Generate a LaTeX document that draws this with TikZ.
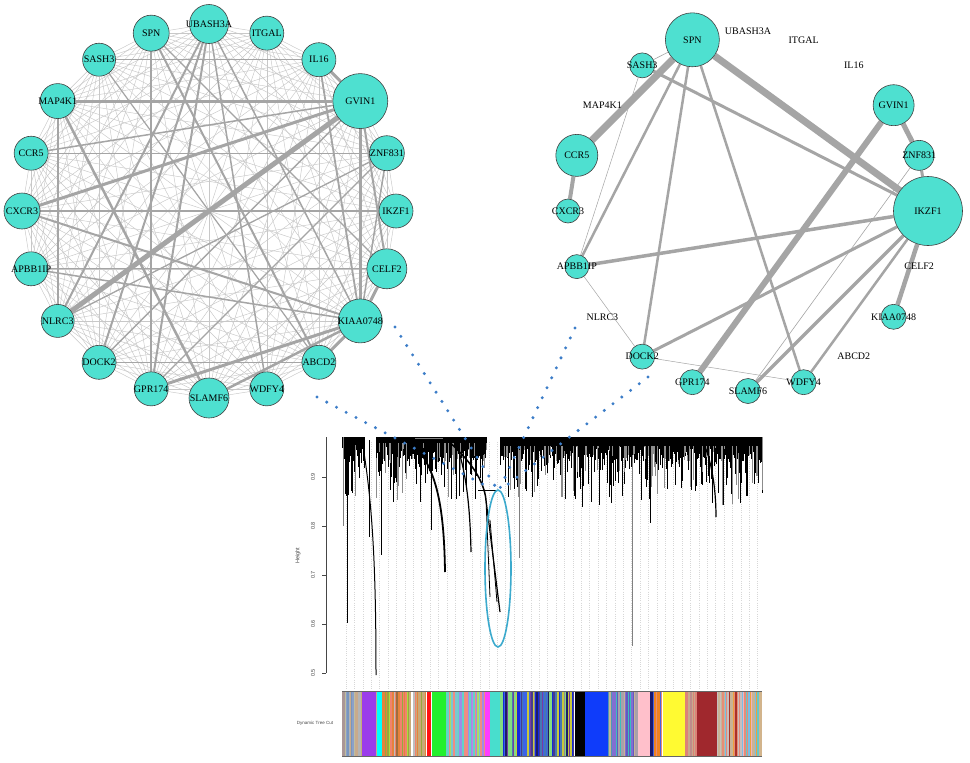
\documentclass[tikz,border=0pt]{standalone}
\usepackage{fontspec}
\setmainfont{Liberation Serif}
\setsansfont{Liberation Sans}
\usetikzlibrary{calc,backgrounds}
\definecolor{turq}{RGB}{78,224,208}
\definecolor{edgec}{RGB}{165,165,165}
\definecolor{edgelt}{RGB}{200,200,200}
\definecolor{dotblue}{RGB}{60,125,200}
\definecolor{ellcol}{RGB}{60,170,205}
\definecolor{gridc}{RGB}{215,215,215}
\definecolor{axisc}{RGB}{70,70,70}
% colour bar palettes
\definecolor{pa1}{RGB}{180,180,180}\definecolor{pa2}{RGB}{200,170,140}\definecolor{pa3}{RGB}{140,160,200}
\definecolor{pa4}{RGB}{170,150,150}\definecolor{pa5}{RGB}{120,150,190}\definecolor{pa6}{RGB}{190,190,160}
\definecolor{pb1}{RGB}{200,170,120}\definecolor{pb2}{RGB}{150,170,60}\definecolor{pb3}{RGB}{190,190,190}
\definecolor{pb4}{RGB}{230,130,60}\definecolor{pb5}{RGB}{240,130,110}\definecolor{pb6}{RGB}{160,110,60}
\definecolor{pb7}{RGB}{170,220,60}
\definecolor{pc1}{RGB}{100,210,200}\definecolor{pc2}{RGB}{160,140,230}\definecolor{pc3}{RGB}{240,140,130}
\definecolor{pc4}{RGB}{120,200,210}\definecolor{pc5}{RGB}{190,130,230}\definecolor{pc6}{RGB}{170,220,100}
\definecolor{pd1}{RGB}{70,60,140}\definecolor{pd2}{RGB}{30,30,100}\definecolor{pd3}{RGB}{60,100,230}
\definecolor{pd4}{RGB}{120,60,160}\definecolor{pd5}{RGB}{140,140,150}\definecolor{pd6}{RGB}{200,200,60}
\definecolor{pd7}{RGB}{70,120,180}\definecolor{pd8}{RGB}{20,40,220}\definecolor{pd9}{RGB}{130,220,130}
\definecolor{pe1}{RGB}{80,150,180}\definecolor{pe2}{RGB}{60,190,190}\definecolor{pe3}{RGB}{130,110,210}
\definecolor{pe4}{RGB}{100,90,190}\definecolor{pe5}{RGB}{170,160,170}\definecolor{pe6}{RGB}{200,180,150}
\definecolor{pf1}{RGB}{240,130,30}\definecolor{pf2}{RGB}{70,100,220}\definecolor{pf3}{RGB}{230,140,120}
\definecolor{pg1}{RGB}{220,130,120}\definecolor{pg2}{RGB}{190,140,140}\definecolor{pg3}{RGB}{200,170,140}
\definecolor{ph1}{RGB}{230,140,120}\definecolor{ph2}{RGB}{200,190,190}\definecolor{ph3}{RGB}{120,190,230}
\definecolor{ph4}{RGB}{200,180,150}\definecolor{ph5}{RGB}{170,50,40}\definecolor{ph6}{RGB}{240,160,60}
\definecolor{ph7}{RGB}{240,180,190}\definecolor{ph8}{RGB}{100,200,200}
\definecolor{cpurple}{RGB}{155,60,235}\definecolor{ccyan}{RGB}{0,255,255}\definecolor{cred}{RGB}{255,20,20}
\definecolor{cgreen}{RGB}{35,240,45}\definecolor{cmagenta}{RGB}{255,60,255}\definecolor{cturq}{RGB}{72,222,205}
\definecolor{cblue}{RGB}{15,60,250}\definecolor{cpink}{RGB}{255,192,203}\definecolor{cnavy}{RGB}{25,25,112}
\definecolor{cyellow}{RGB}{255,250,50}\definecolor{cbrown}{RGB}{160,40,45}\definecolor{ctan}{RGB}{210,180,140}
\newcommand\cbstripes[4]{%
  \pgfmathtruncatemacro\cbn{(#2-#1)/1.3}%
  \foreach \cbi in {0,...,\cbn}{%
    \pgfmathsetmacro\cbx{#1+1.3*\cbi}%
    \pgfmathrandominteger{\cbk}{1}{#4}%
    \fill[#3\cbk] (\cbx,691) rectangle (\cbx+1.4,756);%
  }%
}
\def\leftlist{UBASH3A,ITGAL,IL16,GVIN1,ZNF831,IKZF1,CELF2,KIAA0748,ABCD2,WDFY4,SLAMF6,GPR174,DOCK2,NLRC3,APBB1IP,CXCR3,CCR5,MAP4K1,SASH3,SPN}
\tikzset{
  glabel/.style={inner sep=0pt, font=\fontsize{10}{10}\selectfont},
  gene/.style={circle, draw=black!75, line width=0.6pt, fill=turq, inner sep=0pt, minimum size=#1},
  lightedge/.style={draw=edgelt, line width=0.45pt},
  wedge/.style={draw=edgec, line width=#1},
  dots/.style={draw=dotblue, line width=3.3pt, line cap=round, dash pattern=on 0pt off 11pt},
  ticklab/.style={inner sep=0pt, text=axisc, font=\fontsize{5.5}{5.5}\sffamily\selectfont},
}
\begin{document}
\begin{tikzpicture}[x=1pt,y=-1pt]
\useasboundingbox (0,0) rectangle (970,763);
\begin{pgfonlayer}{background}
\fill[white] (0,0) rectangle (970,763);
\end{pgfonlayer}

% ---------- left network nodes ----------
\foreach \nm/\ang/\rr [evaluate=\ang as \aa using -\ang] in {UBASH3A/90/19.5, ITGAL/72/17, IL16/54/17, GVIN1/36/27.5, ZNF831/18/17.5, IKZF1/0/17, CELF2/-18/20, KIAA0748/-36/22, ABCD2/-54/17, WDFY4/-72/17, SLAMF6/-90/20, GPR174/-108/17, DOCK2/-126/17, NLRC3/-144/16.5, APBB1IP/-162/17, CXCR3/180/18, CCR5/162/17, MAP4K1/144/17.5, SASH3/126/16.5, SPN/108/18}
  \node[gene=2*\rr, label={[glabel]center:\nm}] (l\nm) at ($(209,211)+(\aa:187)$) {};

% ---------- right network nodes ----------
\foreach \nm/\ang/\rr [evaluate=\ang as \aa using -\ang] in {SPN/108/27, SASH3/126/12.5, CCR5/162/21, CXCR3/180/12, APBB1IP/-162/12, DOCK2/-126/12.5, GPR174/-108/12.5, SLAMF6/-90/12.5, WDFY4/-72/12.5, KIAA0748/-36/12.5, IKZF1/0/34.5, ZNF831/18/15, GVIN1/36/20.5}
  \node[gene=2*\rr, label={[glabel]center:\nm}] (r\nm) at ($(748,211)+(\aa:180)$) {};
\foreach \nm/\ang [evaluate=\ang as \aa using -\ang] in {UBASH3A/90, ITGAL/72, IL16/54, CELF2/-18, ABCD2/-54, NLRC3/-144, MAP4K1/144}
  \node[glabel] (r\nm) at ($(748,211)+(\aa:180)$) {\nm};

% ---------- edges ----------
\begin{pgfonlayer}{background}
\foreach \a [count=\i] in \leftlist {
  \foreach \b [count=\j] in \leftlist {
    \ifnum\j>\i \draw[lightedge] (l\a) -- (l\b);\fi
  }
}
\foreach \a/\b/\w in {MAP4K1/GVIN1/3, CXCR3/GVIN1/3, NLRC3/GVIN1/5, GVIN1/KIAA0748/3, GVIN1/CELF2/2, IL16/GVIN1/3,
  IL16/KIAA0748/1.8, KIAA0748/GPR174/3, KIAA0748/SLAMF6/2.5, KIAA0748/ABCD2/3, KIAA0748/CELF2/3, CXCR3/KIAA0748/2,
  APBB1IP/KIAA0748/1.5, SPN/GPR174/2.5, MAP4K1/NLRC3/2, MAP4K1/SLAMF6/2.5, UBASH3A/NLRC3/2, UBASH3A/DOCK2/2,
  UBASH3A/GPR174/2, SPN/ABCD2/2, UBASH3A/WDFY4/1.5, UBASH3A/KIAA0748/1.5, GVIN1/DOCK2/1.5, CCR5/ZNF831/1.2,
  CXCR3/IKZF1/1.2, APBB1IP/CELF2/1.2, CCR5/GVIN1/1.5, ZNF831/KIAA0748/1.5, SASH3/IL16/1, DOCK2/ABCD2/1,
  NLRC3/ZNF831/1.3, GPR174/ZNF831/1.3, SPN/CELF2/1.3, SASH3/ABCD2/1.2}
  \draw[wedge=\w pt] (l\a) -- (l\b);
\foreach \a/\b/\w in {SPN/IKZF1/7, SPN/CCR5/7, CCR5/CXCR3/4, SPN/SASH3/0.6, SASH3/APBB1IP/0.5, SPN/APBB1IP/2.5,
  SPN/DOCK2/2.5, SPN/WDFY4/2.5, SASH3/IKZF1/3, GVIN1/ZNF831/5, ZNF831/IKZF1/3, GVIN1/GPR174/6, IKZF1/APBB1IP/3.5,
  IKZF1/DOCK2/3, IKZF1/SLAMF6/3.5, IKZF1/WDFY4/2.5, IKZF1/KIAA0748/4.5, ZNF831/SLAMF6/0.6, APBB1IP/DOCK2/0.5,
  DOCK2/WDFY4/0.5}
  \draw[wedge=\w pt] (r\a) -- (r\b);
\end{pgfonlayer}

% ---------- dendrogram ----------
\foreach \i in {0,...,49}
  \draw[gridc, line width=0.5pt, dash pattern=on 1pt off 1.2pt] (346+8.4*\i,442) -- (346+8.4*\i,689);
\pgfmathsetseed{3}
\foreach \i in {0,...,700}{
  \pgfmathsetmacro\xx{342.5+0.6*\i}
  \pgfmathtruncatemacro\ok{and(or(\xx<365,\xx>376),or(\xx<487,\xx>500))}
  \ifnum\ok=1
    \pgfmathsetmacro\ll{9+16*rnd+50*rnd^4}
    \pgfmathtruncatemacro\gr{rnd<0.25}
    \ifnum\gr=1
      \draw[black!45, line width=0.5pt] (\xx,437) -- ++(0,\ll);
    \else
      \draw[black, line width=0.5pt] (\xx,437) -- ++(0,\ll);
    \fi
  \fi
}
\fill[black] (342,437) rectangle (365,445);
\fill[black] (376,437) rectangle (487,443);
\fill[black] (500,437) rectangle (762,446);
\draw[gray, line width=0.8pt] (343,437) -- (343,526);
\draw[black, line width=0.9pt] (347,440) -- (347,623);
\draw[black, line width=1pt] (362,440) .. controls (372,500) and (376,560) .. (376,675);
\draw[black, line width=0.8pt] (369,440) -- (369,537);
\draw[black, line width=0.8pt] (381,440) -- (381,555);
\draw[gray, line width=0.6pt] (415,438) -- (443,438);
\draw[black, line width=1.8pt] (415,445) .. controls (435,470) and (444,500) .. (445,572);
\draw[black, line width=0.8pt] (431,450) -- (431,530);
\draw[black, line width=1.2pt] (457,445) .. controls (465,470) and (470,500) .. (471,552);
\draw[black, line width=1.5pt] (447,440) .. controls (470,460) and (484,480) .. (486,500);
\draw[black, line width=0.6pt] (478,490) -- (498,490);
\draw[black, line width=1.2pt] (486,500) -- (500,612);
\draw[black, line width=0.8pt] (486,500) -- (490,597);
\draw[black, line width=0.8pt] (490,520) -- (497,602);
\draw[gray, line width=0.7pt] (519,450) -- (519,558);
\draw[black, line width=1pt] (582,455) -- (582,507);
\draw[black, line width=1pt] (607,455) -- (607,483);
\draw[gray, line width=0.6pt] (632,455) -- (632,646);
\draw[black, line width=0.9pt] (650,455) -- (650,523);
\draw[black, line width=1.2pt] (702,440) .. controls (712,460) and (716,490) .. (716,517);

% axis
\draw[axisc, line width=0.5pt] (326,437) -- (326,673);
\foreach \v/\y in {0.9/477, 0.8/526, 0.7/575, 0.6/624, 0.5/673}{
  \draw[axisc, line width=0.5pt] (326,\y) -- (322,\y);
  \node[ticklab, rotate=90] (tick\y) at (313,\y) {\v};
}
\node[ticklab, rotate=90] (heightlab) at (298,556) {Height};
\node[ticklab, font=\fontsize{4.5}{4.5}\sffamily\selectfont] (dtclab) at (315,723) {Dynamic Tree Cut};

% colour bar
\pgfmathsetseed{11}
\cbstripes{342}{361}{pa}{6}
\cbstripes{361}{362}{pb}{7}
\cbstripes{376}{377}{pa}{6}
\cbstripes{382}{426}{pb}{7}
\cbstripes{446}{484}{pc}{6}
\cbstripes{500}{574}{pd}{9}
\cbstripes{608}{637}{pe}{6}
\cbstripes{653}{662}{pf}{3}
\cbstripes{685}{696}{pg}{3}
\cbstripes{717}{758}{ph}{8}
\foreach \xa/\xb/\cc in {362/376/cpurple, 377/382/ccyan, 411/413/white, 427/431/cred, 432/446/cgreen,
  485/490/cmagenta, 490/500/cturq, 575/585/black, 585/608/cblue, 638/650/cpink, 650/653/cnavy,
  663/685/cyellow, 697/717/cbrown, 759/762/ctan}
  \fill[\cc] (\xa,691) rectangle (\xb,756);
\draw[black!60, line width=0.8pt] (342,691) -- (762,691);
\draw[black!60, line width=0.8pt] (342,756) -- (762,756);

% ellipse
\draw[ellcol, line width=1.6pt] (498,568.5) ellipse [x radius=13pt, y radius=78.5pt];

% dotted connectors
\coordinate (d1s) at (317,397); \coordinate (d1e) at (490,488);
\coordinate (d2s) at (395,327); \coordinate (d2e) at (497,489);
\coordinate (d3s) at (575,328); \coordinate (d3e) at (500,488);
\coordinate (d4s) at (648,377); \coordinate (d4e) at (503,488);
\draw[dots] (d1s) -- (d1e);
\draw[dots] (d2s) -- (d2e);
\draw[dots] (d3s) -- (d3e);
\draw[dots] (d4s) -- (d4e);
\end{tikzpicture}
\end{document}
